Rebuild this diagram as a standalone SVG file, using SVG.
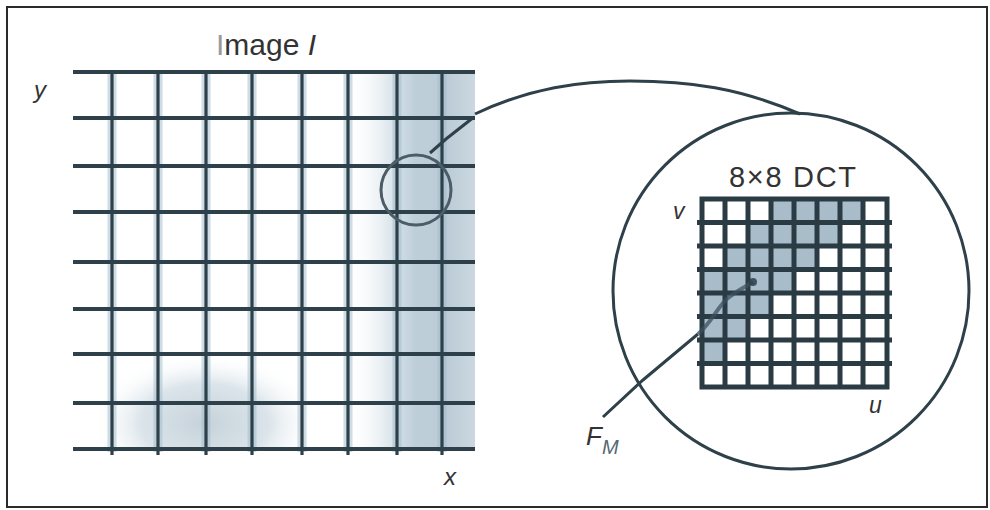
<svg xmlns="http://www.w3.org/2000/svg" width="990" height="510" viewBox="0 0 990 510">
<defs>
<style>
.lbl{font-family:"Liberation Sans",Arial,sans-serif;fill:#333;}
.it{font-style:italic;}
.hl{stroke:#2e4049;stroke-width:4;}
.vh{stroke:#9fbccd;stroke-width:9;opacity:0.5;}
.vl{stroke:#2e4049;stroke-width:3.2;}
.dl{stroke:#2b3b44;stroke-width:5;}
.conn{fill:none;stroke:#2e4049;stroke-width:3;}
.sh{fill:#a9bcc9;}
</style>
<linearGradient id="shadeX" x1="73" y1="0" x2="475" y2="0" gradientUnits="userSpaceOnUse">
<stop offset="0" stop-color="#ffffff" stop-opacity="0"/>
<stop offset="0.68" stop-color="#ffffff" stop-opacity="0"/>
<stop offset="0.80" stop-color="#d6e1e8" stop-opacity="1"/>
<stop offset="0.85" stop-color="#bfcfda" stop-opacity="1"/>
<stop offset="0.93" stop-color="#bccbd6" stop-opacity="1"/>
<stop offset="1" stop-color="#cbd8e1" stop-opacity="1"/>
</linearGradient>
<radialGradient id="blob2" cx="0.5" cy="0.8" r="0.55">
<stop offset="0" stop-color="#c6d2da"/>
<stop offset="0.55" stop-color="#dbe4ea"/>
<stop offset="1" stop-color="#ffffff" stop-opacity="0"/>
</radialGradient>
</defs>
<rect x="0" y="0" width="990" height="510" fill="#ffffff"/>
<rect id="frame" x="7" y="7" width="980" height="500" fill="none" stroke="#2a2a2a" stroke-width="2"/>

<g id="image-grid">
<rect x="73" y="72" width="402" height="378" fill="#ffffff"/>
<rect x="73" y="72" width="402" height="378" fill="url(#shadeX)"/>
<rect x="100" y="320" width="210" height="129" fill="url(#blob2)"/>
<g>
<line class="vh" x1="112" y1="72" x2="112" y2="452"/>
<line class="vh" x1="158" y1="72" x2="158" y2="452"/>
<line class="vh" x1="206" y1="72" x2="206" y2="452"/>
<line class="vh" x1="252" y1="72" x2="252" y2="452"/>
<line class="vh" x1="302" y1="72" x2="302" y2="452"/>
<line class="vh" x1="348" y1="72" x2="348" y2="452"/>
<line class="vh" x1="397" y1="72" x2="397" y2="452"/>
<line class="vh" x1="442" y1="72" x2="442" y2="452"/>
</g>
<g>
<line class="vl" x1="112" y1="72" x2="112" y2="455"/>
<line class="vl" x1="158" y1="72" x2="158" y2="455"/>
<line class="vl" x1="206" y1="72" x2="206" y2="455"/>
<line class="vl" x1="252" y1="72" x2="252" y2="455"/>
<line class="vl" x1="302" y1="72" x2="302" y2="455"/>
<line class="vl" x1="348" y1="72" x2="348" y2="455"/>
<line class="vl" x1="397" y1="72" x2="397" y2="455"/>
<line class="vl" x1="442" y1="72" x2="442" y2="455"/>
</g>
<g>
<line class="hl" x1="73" y1="72" x2="475" y2="72" stroke-width="5.5"/>
<line class="hl" x1="73" y1="118" x2="475" y2="118"/>
<line class="hl" x1="73" y1="166" x2="475" y2="166"/>
<line class="hl" x1="73" y1="212" x2="475" y2="212"/>
<line class="hl" x1="73" y1="262" x2="475" y2="262"/>
<line class="hl" x1="73" y1="309" x2="475" y2="309"/>
<line class="hl" x1="73" y1="354" x2="475" y2="354"/>
<line class="hl" x1="73" y1="403" x2="475" y2="403"/>
<line class="hl" x1="73" y1="449" x2="475" y2="449"/>
</g>
</g>

<g id="small-circle">
<circle cx="416" cy="190" r="35" fill="none" stroke="#4b5d66" stroke-width="3"/>
</g>

<g id="zoom-circle">
<circle cx="791" cy="291" r="178" fill="none" stroke="#2e4049" stroke-width="3"/>
</g>

<g id="dct-grid">
<rect x="702" y="199" width="185" height="188" fill="#ffffff"/>
<g>
<rect class="sh" x="771" y="199" width="92" height="24"/>
<rect class="sh" x="748" y="222" width="92" height="24"/>
<rect class="sh" x="725" y="246" width="92" height="24"/>
<rect class="sh" x="702" y="269" width="92" height="24"/>
<rect class="sh" x="702" y="293" width="69" height="24"/>
<rect class="sh" x="702" y="316" width="46" height="24"/>
<rect class="sh" x="702" y="340" width="23" height="24"/>
</g>
<g>
<line class="dl" x1="725" y1="199" x2="725" y2="387"/>
<line class="dl" x1="748" y1="199" x2="748" y2="387"/>
<line class="dl" x1="771" y1="199" x2="771" y2="387"/>
<line class="dl" x1="794" y1="199" x2="794" y2="387"/>
<line class="dl" x1="817" y1="199" x2="817" y2="387"/>
<line class="dl" x1="840" y1="199" x2="840" y2="387"/>
<line class="dl" x1="863" y1="199" x2="863" y2="387"/>
<line class="dl" x1="697" y1="222.5" x2="892" y2="222.5"/>
<line class="dl" x1="697" y1="246" x2="892" y2="246"/>
<line class="dl" x1="697" y1="269.5" x2="892" y2="269.5"/>
<line class="dl" x1="697" y1="293" x2="892" y2="293"/>
<line class="dl" x1="697" y1="316.5" x2="892" y2="316.5"/>
<line class="dl" x1="697" y1="340" x2="892" y2="340"/>
<line class="dl" x1="697" y1="363.5" x2="892" y2="363.5"/>
<rect x="702" y="199" width="185" height="188" fill="none" stroke="#2b3b44" stroke-width="5"/>
</g>
</g>

<g id="connectors">
<path class="conn" d="M430,153 L446,139 L474,117"/>
<path class="conn" d="M475,114 C530,88 580,81 630,81 C690,81 740,88 800,114"/>
<path class="conn" d="M603,417 L643,380 L698,334"/>
<path d="M698,334 C712,322 718,306 728,298 C738,290 745,287 753,282" fill="none" stroke="#3b5260" stroke-width="4" opacity="0.75"/>
<circle cx="753" cy="282" r="4" fill="#2e4049" opacity="0.85"/>
</g>

<g id="labels">
<text class="lbl" x="216" y="55" font-size="30"><tspan fill="#999">I</tspan>mage <tspan class="it">I</tspan></text>
<text class="lbl it" x="34" y="98" font-size="24">y</text>
<text class="lbl it" x="444" y="485" font-size="24">x</text>
<text class="lbl" x="729" y="187" font-size="29" textLength="127" lengthAdjust="spacing">8×8 DCT</text>
<text class="lbl it" x="673" y="219" font-size="23">v</text>
<text class="lbl it" x="869" y="413" font-size="23">u</text>
<text class="lbl it" x="586" y="445" font-size="26">F<tspan font-size="20" dy="9" fill="#556874">M</tspan></text>
</g>
</svg>
